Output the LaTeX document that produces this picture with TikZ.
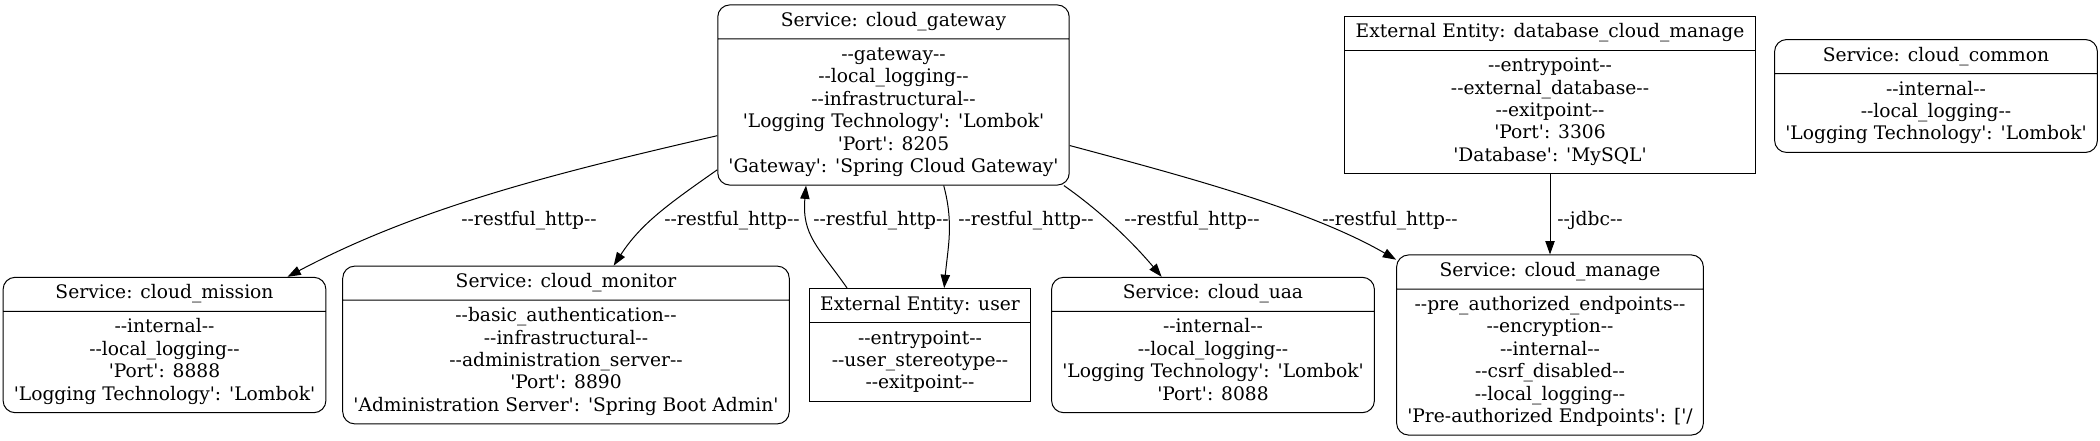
\documentclass[tikz,border=0pt]{standalone}
\usepackage{fontspec}
\setmainfont{DejaVu Serif}[Ligatures=TeXOff]
\usetikzlibrary{shapes.multipart,arrows.meta}

\begin{document}
\begin{tikzpicture}[x=0.75pt, y=0.75pt,
    every node/.style={font=\fontsize{14}{16.8}\selectfont},
    svc/.style={rectangle split, rectangle split parts=2, draw, line width=0.75pt,
        rounded corners=9pt, align=center, inner xsep=8pt, inner ysep=4pt},
    ext/.style={svc, sharp corners},
    flow/.style={-{Triangle[length=10pt,width=7pt]}, line width=0.75pt}]
    \useasboundingbox (0,0) rectangle (2100,440);

    \node[svc] (gw) at (893.5,345) {\strut Service: cloud\_gateway
        \nodepart{two}\strut--gateway--\\--local\_logging--\\--infrastructural--\\'Logging Technology': 'Lombok'\\'Port': 8205\\'Gateway': 'Spring Cloud Gateway'\strut};
    \node[ext] (db) at (1550,345) {\strut External Entity: database\_cloud\_manage
        \nodepart{two}\strut--entrypoint--\\--external\_database--\\--exitpoint--\\'Port': 3306\\'Database': 'MySQL'\strut};
    \node[svc] (common) at (1936,344) {\strut Service: cloud\_common
        \nodepart{two}\strut--internal--\\--local\_logging--\\'Logging Technology': 'Lombok'\strut};
    \node[svc] (mission) at (164.5,95) {\strut Service: cloud\_mission
        \nodepart{two}\strut--internal--\\--local\_logging--\\'Port': 8888\\'Logging Technology': 'Lombok'\strut};
    \node[svc] (monitor) at (566,95) {\strut Service: cloud\_monitor
        \nodepart{two}\strut--basic\_authentication--\\--infrastructural--\\--administration\_server--\\'Port': 8890\\'Administration Server': 'Spring Boot Admin'\strut};
    \node[ext] (user) at (920,95) {\strut External Entity: user
        \nodepart{two}\strut--entrypoint--\\--user\_stereotype--\\--exitpoint--\strut};
    \node[svc] (uaa) at (1213,95) {\strut Service: cloud\_uaa
        \nodepart{two}\strut--internal--\\--local\_logging--\\'Logging Technology': 'Lombok'\\'Port': 8088\strut};
    \node[svc] (manage) at (1550,95) {\strut Service: cloud\_manage
        \nodepart{two}\strut--pre\_authorized\_endpoints--\\--encryption--\\--internal--\\--csrf\_disabled--\\--local\_logging--\\'Pre-authorized Endpoints': ['/\strut};

    \draw[flow] (gw.193) .. controls +(193:160) and +(28:150) .. (mission.29);
    \draw[flow] (gw.203) .. controls +(215:60) and +(57:50) .. (monitor.59);
    \draw[flow] (user.142) .. controls +(125:50) and +(265:50) .. (gw.226);
    \draw[flow] (gw.299) .. controls +(285:40) and +(85:40) .. (user.67);
    \draw[flow] (gw.332) .. controls +(325:45) and +(130:45) .. (uaa.127);
    \draw[flow] (gw.344) .. controls +(345:120) and +(150:100) .. (manage.151);
    \draw[flow] (db.south) -- (manage.north);

    \node (lmission) at (529,219) {--restful\_http--};
    \node (lmonitor) at (732,219) {--restful\_http--};
    \node (luser) at (881,219) {--restful\_http--};
    \node (lgw) at (1026,219) {--restful\_http--};
    \node (luaa) at (1192,219) {--restful\_http--};
    \node (lmanage) at (1390,219) {--restful\_http--};
    \node (ljdbc) at (1590,220) {--jdbc--};
\end{tikzpicture}
\end{document}
